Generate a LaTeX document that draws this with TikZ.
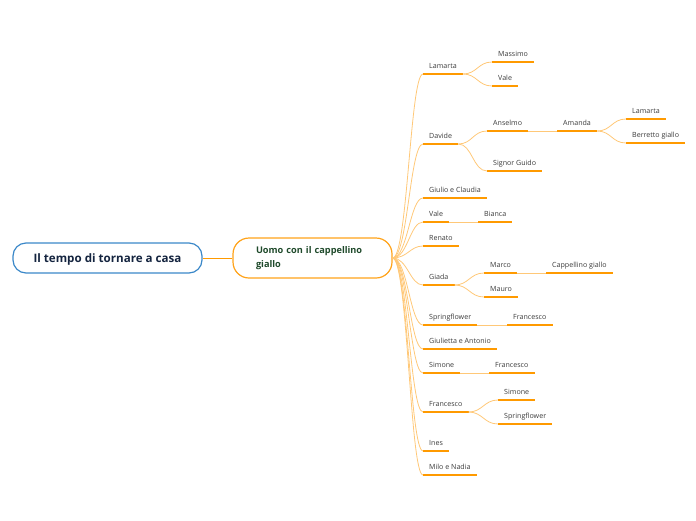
\documentclass[tikz,border=0pt]{standalone}
\usepackage{fontspec}
\setmainfont{Open Sans}
\usepackage{xcolor}
\usetikzlibrary{positioning}

\definecolor{rootblue}{HTML}{3B88C9}
\definecolor{rootink}{HTML}{14243F}
\definecolor{mainorange}{HTML}{FFA31A}
\definecolor{mainink}{HTML}{1F4A2B}
\definecolor{lineorange}{HTML}{FF9A00}
\definecolor{linkorange}{HTML}{FFC878}
\definecolor{labelink}{HTML}{3A3A3A}

\begin{document}
\begin{tikzpicture}[
    x=1pt, y=-1pt,
    root/.style={draw=rootblue, fill=white, line width=1.2pt, rounded corners=13pt,
        minimum width=189pt, minimum height=30pt, text depth=0pt, text=rootink,
        font=\bfseries\fontsize{11.6}{13}\selectfont},
    main/.style={draw=mainorange, fill=white, line width=1.2pt, rounded corners=16pt,
        minimum width=159pt, minimum height=40pt, inner xsep=23pt, text width=113pt,
        align=left, text=mainink,
        font=\bfseries\fontsize{9.2}{14}\selectfont},
    topic/.style={anchor=south west, inner xsep=6pt, inner ysep=4.2pt,
        text height=5pt, text depth=1.5pt, text=labelink,
        font=\fontsize{7.1}{8}\selectfont,
        append after command={\pgfextra{\draw[lineorange, line width=2pt]
            (\tikzlastnode.south west) -- (\tikzlastnode.south east);}}},
    branch/.style={draw=linkorange, line width=0.8pt}
]

\useasboundingbox (0,0) rectangle (696,520);

\node[root] (tempo) at (107.5,258) {Il tempo di tornare a casa};
\node[main] (uomo) at (312.5,258) {Uomo con il cappellino\\giallo};

\node[topic] (lamarta) at (423,74) {Lamarta};
\node[topic] (massimo) at (492,62) {Massimo};
\node[topic] (valeA) at (492,86) {Vale};
\node[topic] (davide) at (423,144) {Davide};
\node[topic] (anselmo) at (487,131) {Anselmo};
\node[topic] (amanda) at (557,131) {Amanda};
\node[topic] (lamartaA) at (626,119) {Lamarta};
\node[topic] (berretto) at (626,143) {Berretto giallo};
\node[topic] (guido) at (487,171) {Signor Guido};
\node[topic] (giulio) at (423,198) {Giulio e Claudia};
\node[topic] (vale) at (423,222) {Vale};
\node[topic] (bianca) at (478,222) {Bianca};
\node[topic] (renato) at (423,246) {Renato};
\node[topic] (giada) at (423,285) {Giada};
\node[topic] (marco) at (484,273) {Marco};
\node[topic] (cappellino) at (546,273) {Cappellino giallo};
\node[topic] (mauro) at (484,297) {Mauro};
\node[topic] (spring) at (423,325) {Springflower};
\node[topic] (francescoA) at (507,325) {Francesco};
\node[topic] (giulietta) at (423,349) {Giulietta e Antonio};
\node[topic] (simone) at (423,373) {Simone};
\node[topic] (francescoB) at (489,373) {Francesco};
\node[topic] (francesco) at (423,412) {Francesco};
\node[topic] (simoneA) at (498,400) {Simone};
\node[topic] (springA) at (498,424) {Springflower};
\node[topic] (ines) at (423,451) {Ines};
\node[topic] (milo) at (423,475) {Milo e Nadia};

\draw[draw=lineorange, line width=0.8pt] (tempo) -- (uomo);

\draw[branch] (uomo.east) .. controls +(15,0) and +(-13,0) .. (lamarta.south west);
\draw[branch] (uomo.east) .. controls +(15,0) and +(-13,0) .. (davide.south west);
\draw[branch] (uomo.east) .. controls +(15,0) and +(-13,0) .. (giulio.south west);
\draw[branch] (uomo.east) .. controls +(15,0) and +(-13,0) .. (vale.south west);
\draw[branch] (uomo.east) .. controls +(15,0) and +(-13,0) .. (renato.south west);
\draw[branch] (uomo.east) .. controls +(15,0) and +(-13,0) .. (giada.south west);
\draw[branch] (uomo.east) .. controls +(15,0) and +(-13,0) .. (spring.south west);
\draw[branch] (uomo.east) .. controls +(15,0) and +(-13,0) .. (giulietta.south west);
\draw[branch] (uomo.east) .. controls +(15,0) and +(-13,0) .. (simone.south west);
\draw[branch] (uomo.east) .. controls +(15,0) and +(-13,0) .. (francesco.south west);
\draw[branch] (uomo.east) .. controls +(15,0) and +(-13,0) .. (ines.south west);
\draw[branch] (uomo.east) .. controls +(15,0) and +(-13,0) .. (milo.south west);

\draw[branch] (lamarta.south east) .. controls +(14,0) and +(-14,0) .. (massimo.south west);
\draw[branch] (lamarta.south east) .. controls +(14,0) and +(-14,0) .. (valeA.south west);
\draw[branch] (davide.south east) .. controls +(14,0) and +(-14,0) .. (anselmo.south west);
\draw[branch] (davide.south east) .. controls +(14,0) and +(-14,0) .. (guido.south west);
\draw[branch] (anselmo.south east) -- (amanda.south west);
\draw[branch] (amanda.south east) .. controls +(14,0) and +(-14,0) .. (lamartaA.south west);
\draw[branch] (amanda.south east) .. controls +(14,0) and +(-14,0) .. (berretto.south west);
\draw[branch] (vale.south east) -- (bianca.south west);
\draw[branch] (giada.south east) .. controls +(14,0) and +(-14,0) .. (marco.south west);
\draw[branch] (giada.south east) .. controls +(14,0) and +(-14,0) .. (mauro.south west);
\draw[branch] (marco.south east) -- (cappellino.south west);
\draw[branch] (spring.south east) -- (francescoA.south west);
\draw[branch] (simone.south east) -- (francescoB.south west);
\draw[branch] (francesco.south east) .. controls +(14,0) and +(-14,0) .. (simoneA.south west);
\draw[branch] (francesco.south east) .. controls +(14,0) and +(-14,0) .. (springA.south west);

\end{tikzpicture}
\end{document}
